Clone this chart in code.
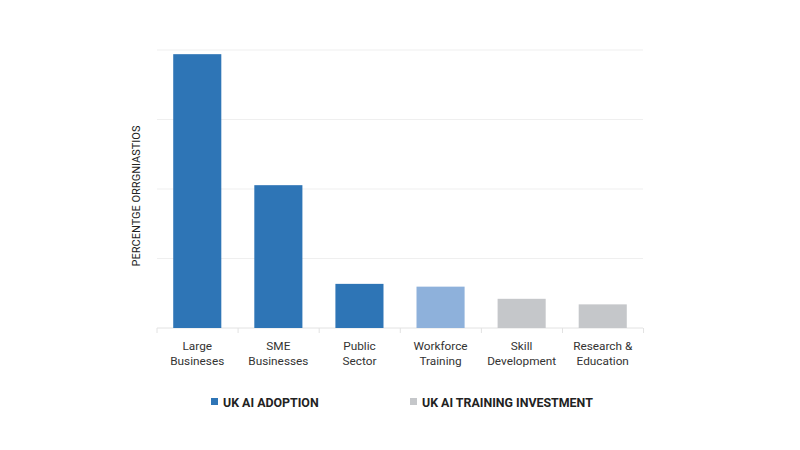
<!DOCTYPE html>
<html>
<head>
<meta charset="utf-8">
<script src="https://cdn.jsdelivr.net/npm/d3@7"></script>
<style>
  body { margin: 0; background: #fff; }
  svg { font-family: Roboto, "Liberation Sans", sans-serif; }
</style>
</head>
<body>
<div id="chart"></div>
<script>
// Data
const categories = [
  ["Large", "Busineses"],
  ["SME", "Businesses"],
  ["Public", "Sector"],
  ["Workforce", "Training"],
  ["Skill", "Development"],
  ["Research &", "Education"],
];
const values = [78.8, 41.1, 12.7, 11.9, 8.4, 6.8];
const barColors = ["#2e75b6", "#2e75b6", "#2e75b6", "#8eb1db", "#c5c7ca", "#c5c7ca"];
const yTicks = [0, 20, 40, 60, 80];
const legendItems = [
  { label: "UK AI ADOPTION", color: "#2e75b6" },
  { label: "UK AI TRAINING INVESTMENT", color: "#c5c7ca" },
];

function draw() {
  const dimensions = {
    width: 800,
    height: 450,
    left: 157,
    right: 643,
    top: 50,
    bottom: 328,
  };

  const svg = d3
    .select("#chart")
    .append("svg")
    .attr("width", dimensions.width)
    .attr("height", dimensions.height);

  const data = categories.map((c, i) => ({ cat: c, value: values[i], color: barColors[i] }));

  // Scales
  const xScale = d3
    .scaleBand()
    .domain(data.map((d) => d.cat.join(" ")))
    .range([dimensions.left, dimensions.right])
    .paddingInner(0.407)
    .paddingOuter(0.2);

  const yScale = d3
    .scaleLinear()
    .domain([0, 80])
    .range([dimensions.bottom, dimensions.top]);

  // Gridlines
  svg
    .append("g")
    .selectAll("line")
    .data(yTicks)
    .join("line")
    .attr("x1", dimensions.left)
    .attr("x2", dimensions.right)
    .attr("y1", (d) => yScale(d))
    .attr("y2", (d) => yScale(d))
    .attr("stroke", (d) => (d === 0 ? "#e2e2e2" : "#efefef"))
    .attr("stroke-width", 1);

  // Separator ticks at band edges
  const step = xScale.step();
  const edges = d3.range(categories.length + 1).map((i) => dimensions.left + i * step);
  svg
    .append("g")
    .selectAll("line")
    .data(edges)
    .join("line")
    .attr("x1", (d) => d)
    .attr("x2", (d) => d)
    .attr("y1", dimensions.bottom)
    .attr("y2", dimensions.bottom + 5)
    .attr("stroke", "#e2e2e2");

  // Bars
  svg
    .append("g")
    .selectAll("rect")
    .data(data)
    .join("rect")
    .attr("x", (d) => xScale(d.cat.join(" ")))
    .attr("width", xScale.bandwidth())
    .attr("y", (d) => yScale(d.value))
    .attr("height", (d) => yScale(0) - yScale(d.value))
    .attr("fill", (d) => d.color);

  // Category labels
  const labels = svg
    .append("g")
    .selectAll("text")
    .data(data)
    .join("text")
    .attr("x", (d) => xScale(d.cat.join(" ")) + xScale.bandwidth() / 2)
    .attr("y", 350)
    .attr("text-anchor", "middle")
    .attr("font-size", 11.8)
    .attr("fill", "#333");
  labels
    .selectAll("tspan")
    .data((d) => d.cat.map((line) => ({ line, x: xScale(d.cat.join(" ")) + xScale.bandwidth() / 2 })))
    .join("tspan")
    .attr("x", (d) => d.x)
    .attr("dy", (d, i) => (i === 0 ? 0 : 15))
    .text((d) => d.line);

  // Y axis label
  svg
    .append("text")
    .attr("transform", `translate(140, ${(dimensions.top + dimensions.bottom) / 2 + 7}) rotate(-90)`)
    .attr("text-anchor", "middle")
    .attr("font-size", 11)
    .attr("fill", "#222")
    .text("PERCENTGE ORRGNIASTIOS");

  // Legend
  const legendX = [211, 410];
  const legend = svg
    .append("g")
    .selectAll("g")
    .data(legendItems)
    .join("g")
    .attr("transform", (d, i) => `translate(${legendX[i]}, 398)`);
  legend
    .append("rect")
    .attr("width", 7)
    .attr("height", 7)
    .attr("fill", (d) => d.color);
  legend
    .append("text")
    .attr("x", 12)
    .attr("y", 8.5)
    .attr("font-size", 12.4)
    .attr("font-weight", "bold")
    .attr("fill", "#222")
    .text((d) => d.label);
}

draw();
</script>
</body>
</html>
